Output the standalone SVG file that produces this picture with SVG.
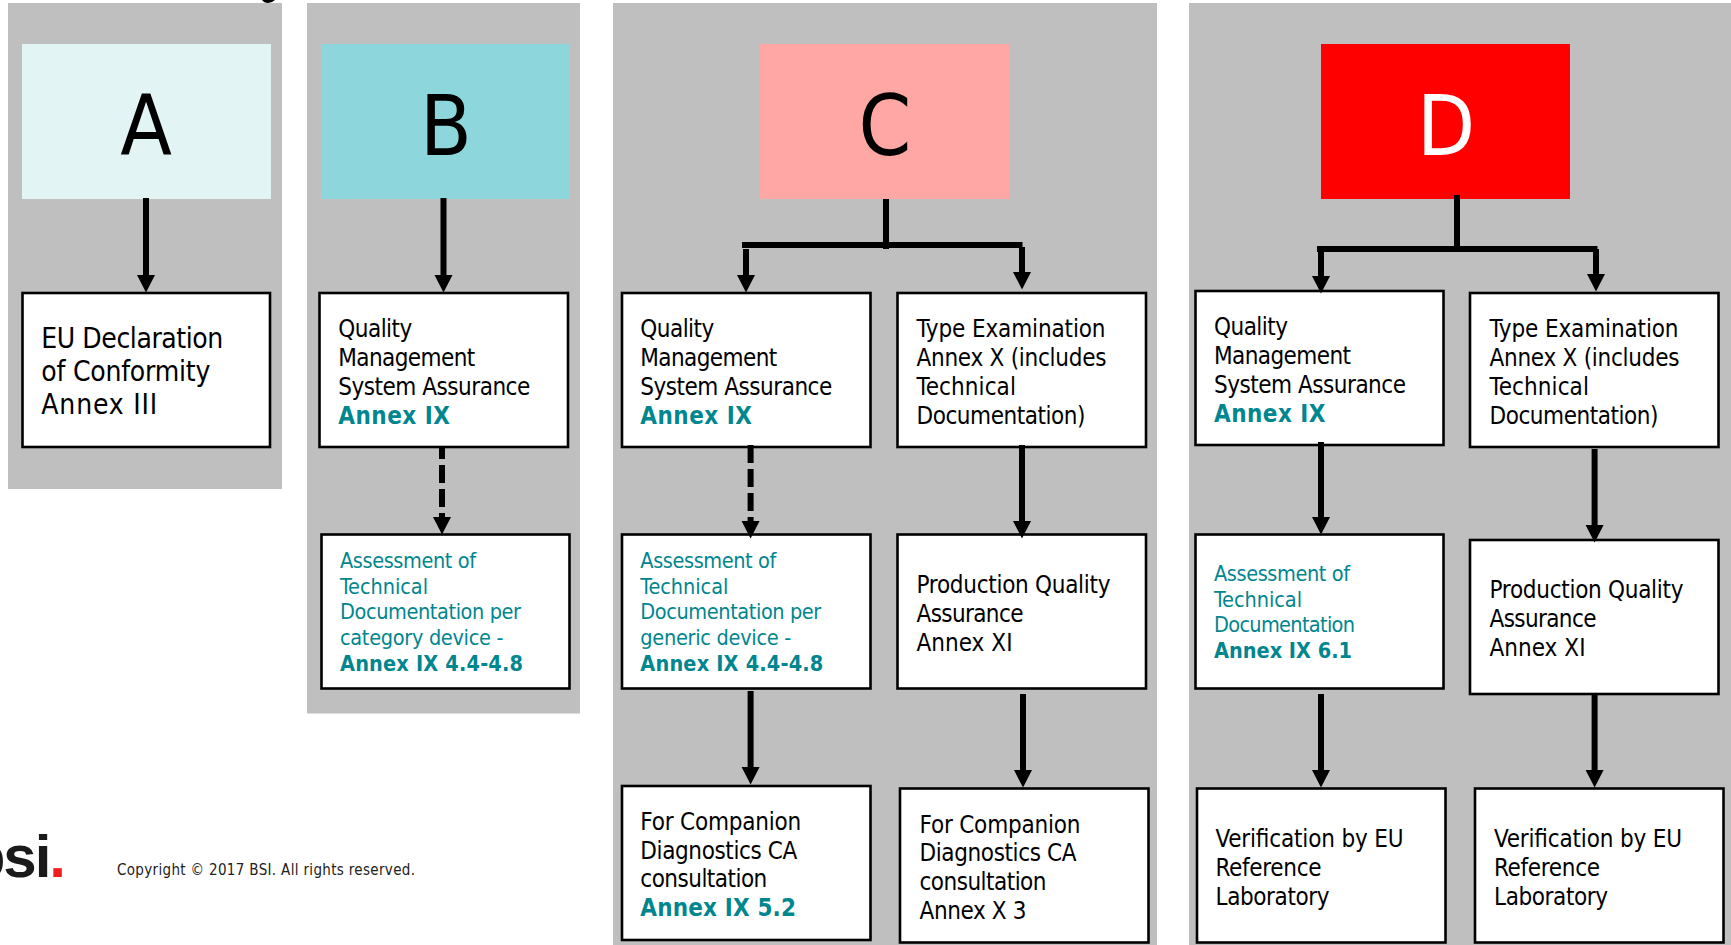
<svg xmlns="http://www.w3.org/2000/svg" width="1731" height="945" viewBox="0 0 1731 945">
<style>
text{font-family:"DejaVu Sans","Noto Sans",sans-serif;font-stretch:condensed;fill:#000}
.panel{fill:#bfbfbf}
.box{fill:#fff;stroke:#000;stroke-width:2.6}
.h{font-size:84px;text-anchor:middle}
.t{font-size:24px}
.t28{font-size:28px}
.s{font-size:21.5px;fill:#00868f}
.b{font-weight:bold;fill:#00868f}
.ln{stroke:#000;stroke-width:6;fill:none}
.ar{marker-end:url(#ah)}
.da{stroke-dasharray:18 6}
</style>
<defs><marker id="ah" markerUnits="userSpaceOnUse" markerWidth="19" markerHeight="19" refX="0" refY="9.5" orient="auto"><path d="M0 0.5L17.5 9.5L0 18.5Z" fill="#000"/></marker></defs>
<rect width="1731" height="945" fill="#fff"/>
<g id="panels">
<rect class="panel" x="8" y="3" width="274" height="486"/>
<rect class="panel" x="307" y="3" width="273" height="710.5"/>
<rect class="panel" x="613" y="3" width="544" height="942"/>
<rect class="panel" x="1189" y="3" width="542" height="942"/>
</g>
<path id="top-fragment" d="M262 0H275Q272 3 268 3Q264 3 262 0Z" fill="#000"/>
<g id="head-a"><rect x="22" y="44" width="249" height="155" fill="#e3f4f4"/><text class="h" x="146" y="155">A</text></g>
<g id="head-b"><rect x="321" y="44" width="249" height="155" fill="#8dd6db"/><text class="h" x="446" y="155">B</text></g>
<g id="head-c"><rect x="760" y="44" width="249" height="155" fill="#ffa7a5"/><text class="h" x="885" y="155">C</text></g>
<g id="head-d"><rect x="1321" y="44" width="249" height="155" fill="#ff0000"/><text class="h" x="1446" y="155" style="fill:#fff">D</text></g>

<g id="a1"><rect class="box" x="22.5" y="293" width="247.5" height="154"/><text class="t28" x="41.3" y="348" textLength="182">EU Declaration</text><text class="t28" x="41.3" y="381" textLength="169">of Conformity</text><text class="t28" x="41.3" y="414" textLength="116">Annex III</text></g>

<g id="b1"><rect class="box" x="319.5" y="293" width="248.5" height="154"/><text class="t" x="338.3" y="337" textLength="74">Quality</text><text class="t" x="338.3" y="366" textLength="137">Management</text><text class="t" x="338.3" y="395" textLength="192">System Assurance</text><text class="t b" x="338.3" y="424" textLength="111.5">Annex IX</text></g>
<g id="b2"><rect class="box" x="321.5" y="534.5" width="248" height="154"/><text class="s" x="340" y="568" textLength="136">Assessment of</text><text class="s" x="340" y="594" textLength="88">Technical</text><text class="s" x="340" y="619" textLength="181">Documentation per</text><text class="s" x="340" y="645" textLength="163.4">category device -</text><text class="s b" x="340" y="671" textLength="183">Annex IX 4.4-4.8</text></g>

<g id="c1"><rect class="box" x="622" y="293" width="248.5" height="154"/><text class="t" x="640.3" y="337" textLength="74">Quality</text><text class="t" x="640.3" y="366" textLength="137">Management</text><text class="t" x="640.3" y="395" textLength="192">System Assurance</text><text class="t b" x="640.3" y="424" textLength="111.5">Annex IX</text></g>
<g id="c2"><rect class="box" x="897.5" y="293" width="248.5" height="154"/><text class="t" x="916.5" y="337" textLength="189">Type Examination</text><text class="t" x="916.5" y="366" textLength="190">Annex X (includes</text><text class="t" x="916.5" y="395" textLength="99.4">Technical</text><text class="t" x="916.5" y="424" textLength="169">Documentation)</text></g>
<g id="c3"><rect class="box" x="622" y="534.5" width="248.5" height="154"/><text class="s" x="640.3" y="568" textLength="136">Assessment of</text><text class="s" x="640.3" y="594" textLength="88">Technical</text><text class="s" x="640.3" y="619" textLength="181">Documentation per</text><text class="s" x="640.3" y="645" textLength="151">generic device -</text><text class="s b" x="640.3" y="671" textLength="183">Annex IX 4.4-4.8</text></g>
<g id="c4"><rect class="box" x="897.5" y="534.5" width="248.5" height="154"/><text class="t" x="916.5" y="593" textLength="194">Production Quality</text><text class="t" x="916.5" y="622" textLength="107">Assurance</text><text class="t" x="916.5" y="651" textLength="96">Annex XI</text></g>
<g id="c5"><rect class="box" x="622" y="786" width="248.5" height="154"/><text class="t" x="640.3" y="830" textLength="161">For Companion</text><text class="t" x="640.3" y="859" textLength="157">Diagnostics CA</text><text class="t" x="640.3" y="887" textLength="127">consultation</text><text class="t b" x="640.3" y="916" textLength="155.7">Annex IX 5.2</text></g>
<g id="c6"><rect class="box" x="900" y="788.5" width="248.5" height="154"/><text class="t" x="919.5" y="833" textLength="161">For Companion</text><text class="t" x="919.5" y="861" textLength="157">Diagnostics CA</text><text class="t" x="919.5" y="890" textLength="127">consultation</text><text class="t" x="919.5" y="919" textLength="107">Annex X 3</text></g>

<g id="d1"><rect class="box" x="1195.5" y="291" width="248" height="154"/><text class="t" x="1214" y="335" textLength="74">Quality</text><text class="t" x="1214" y="364" textLength="137">Management</text><text class="t" x="1214" y="393" textLength="192">System Assurance</text><text class="t b" x="1214" y="422" textLength="111.5">Annex IX</text></g>
<g id="d2"><rect class="box" x="1470" y="293" width="248.5" height="154"/><text class="t" x="1489.5" y="337" textLength="189">Type Examination</text><text class="t" x="1489.5" y="366" textLength="190">Annex X (includes</text><text class="t" x="1489.5" y="395" textLength="99.4">Technical</text><text class="t" x="1489.5" y="424" textLength="169">Documentation)</text></g>
<g id="d3"><rect class="box" x="1195.5" y="534.5" width="248" height="154"/><text class="s" x="1214" y="581" textLength="136">Assessment of</text><text class="s" x="1214" y="607" textLength="88">Technical</text><text class="s" x="1214" y="632" textLength="141">Documentation</text><text class="s b" x="1214" y="658" textLength="138">Annex IX 6.1</text></g>
<g id="d4"><rect class="box" x="1470" y="540" width="248.5" height="154"/><text class="t" x="1489.5" y="598" textLength="194">Production Quality</text><text class="t" x="1489.5" y="627" textLength="107">Assurance</text><text class="t" x="1489.5" y="656" textLength="96">Annex XI</text></g>
<g id="d5"><rect class="box" x="1197" y="788.5" width="248.5" height="154"/><text class="t" x="1215.5" y="847" textLength="188">Verification by EU</text><text class="t" x="1215.5" y="876" textLength="106">Reference</text><text class="t" x="1215.5" y="905" textLength="114">Laboratory</text></g>
<g id="d6"><rect class="box" x="1475" y="788.5" width="248.5" height="154"/><text class="t" x="1494" y="847" textLength="188">Verification by EU</text><text class="t" x="1494" y="876" textLength="106">Reference</text><text class="t" x="1494" y="905" textLength="114">Laboratory</text></g>

<g id="connectors">
<line class="ln ar" x1="146" y1="198" x2="146" y2="275"/>
<line class="ln ar" x1="443.5" y1="198" x2="443.5" y2="275"/>
<line class="ln ar da" x1="442" y1="448" x2="442" y2="517" stroke-dashoffset="7"/>
<line class="ln" x1="886" y1="199" x2="886" y2="249"/>
<line class="ln" x1="742" y1="245" x2="1022.5" y2="245"/>
<line class="ln ar" x1="746" y1="249" x2="746" y2="275"/>
<line class="ln ar" x1="1022" y1="247" x2="1022" y2="272"/>
<line class="ln ar da" x1="750.6" y1="445" x2="750.6" y2="521"/>
<line class="ln ar" x1="1022" y1="445" x2="1022" y2="521"/>
<line class="ln ar" x1="750.6" y1="691" x2="750.6" y2="767"/>
<line class="ln ar" x1="1023" y1="694" x2="1023" y2="770"/>
<line class="ln" x1="1457" y1="195" x2="1457" y2="250"/>
<line class="ln" x1="1317" y1="249" x2="1597.5" y2="249"/>
<line class="ln ar" x1="1321" y1="249" x2="1321" y2="276"/>
<line class="ln ar" x1="1596" y1="249" x2="1596" y2="274"/>
<line class="ln ar" x1="1321" y1="442" x2="1321" y2="517"/>
<line class="ln ar" x1="1594.6" y1="449" x2="1594.6" y2="525"/>
<line class="ln ar" x1="1321" y1="694" x2="1321" y2="770"/>
<line class="ln ar" x1="1594.6" y1="694" x2="1594.6" y2="770"/>
</g>

<g id="footer">
<text x="64" y="877" text-anchor="end" style="font-family:'Liberation Sans',sans-serif;font-stretch:normal;font-size:60px;font-weight:bold;letter-spacing:-2px;fill:#1a1a1a">bsi<tspan style="fill:#f01e1e">.</tspan></text>
<text x="117" y="875" textLength="298" style="font-size:15px;fill:#222">Copyright © 2017 BSI. All rights reserved.</text>
</g>
</svg>
